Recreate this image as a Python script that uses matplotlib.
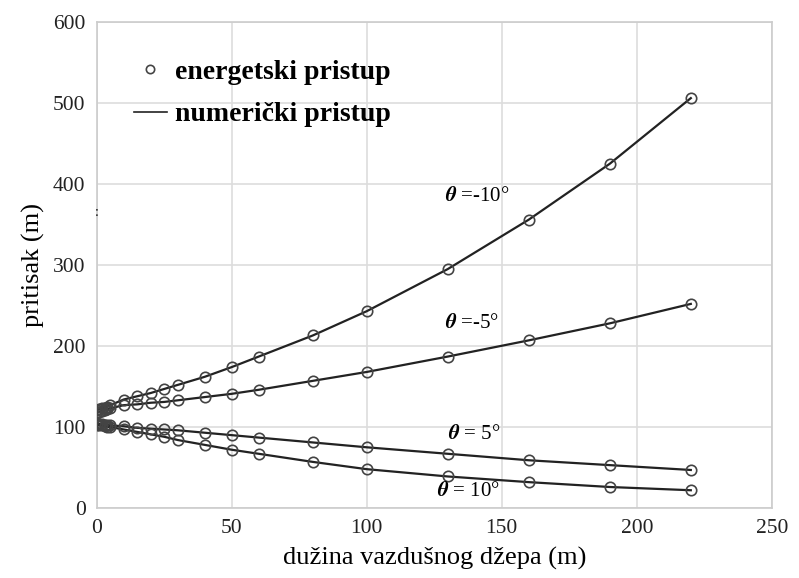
import matplotlib
matplotlib.use("Agg")
import matplotlib.pyplot as plt
from matplotlib.lines import Line2D

x = [0, 1, 2, 3, 4, 5, 10, 15, 20, 25, 30, 40, 50, 60, 80, 100, 130, 160, 190, 220]
p_m10 = [121, 122, 123, 124, 125, 127, 134, 138, 142, 147, 152, 162, 174, 187, 213, 243, 295, 356, 425, 506]
p_m5 = [118, 119, 120, 121, 122, 123, 127, 128, 130, 131, 133, 137, 141, 146, 157, 168, 187, 207, 228, 252]
p_p5 = [105, 104, 104, 103, 103, 102, 101, 99, 98, 97, 96, 93, 90, 87, 81, 75, 67, 59, 53, 47]
p_p10 = [103, 102, 102, 101, 100, 100, 97, 94, 91, 88, 84, 78, 72, 67, 57, 48, 39, 32, 26, 22]
series = [p_m10, p_m5, p_p5, p_p10]
labels = [" =-10°", " =-5°", " = 5°", " = 10°"]
label_pos = [(129, 385), (129, 228), (130, 91), (126, 20)]

xticks = [0, 50, 100, 150, 200, 250]
yticks = [0, 100, 200, 300, 400, 500, 600]

plt.rcParams['font.family'] = ['Liberation Serif', 'DejaVu Serif']
plt.rcParams['mathtext.fontset'] = 'stix'

fig = plt.figure(figsize=(7.99, 5.78), dpi=100)
ax = fig.add_axes([0.121, 0.121, 0.845, 0.841])

for ys in series:
    ax.plot(x, ys, color='#222222', lw=1.6, zorder=2)
    ax.plot(x, ys, linestyle='none', marker='o', markersize=7.5, markerfacecolor='none',
            markeredgecolor='#444444', markeredgewidth=1.2, zorder=3)

for lab, (tx, ty) in zip(labels, label_pos):
    ax.text(tx, ty, r"$\boldsymbol{\theta}$" + lab, fontsize=15, ha='left', va='center')

ax.set_xlim(0, 250)
ax.set_ylim(0, 600)
ax.set_xticks(xticks)
ax.set_yticks(yticks)
ax.tick_params(length=0, labelsize=15.5, pad=8, colors='#222222')
ax.grid(True, color='#dddddd', lw=1.2)
ax.set_axisbelow(True)
for s in ax.spines.values():
    s.set_color('#cccccc')
    s.set_linewidth(1.2)

ax.set_xlabel("dužina vazdušnog džepa (m)", fontsize=19, labelpad=6)
ax.set_ylabel("pritisak (m)", fontsize=19, labelpad=6)

handles = [Line2D([], [], linestyle='none', marker='o', markersize=6, markerfacecolor='none',
                  markeredgecolor='#444444', markeredgewidth=1.2),
           Line2D([], [], color='#222222', lw=1.2)]
ax.legend(handles, ["energetski pristup", "numerički pristup"], loc='upper left',
          bbox_to_anchor=(0.018, 0.975), frameon=False, prop={'size': 20, 'weight': 'bold'},
          handlelength=1.2, handletextpad=0.3, labelspacing=0.62)

fig.text(97 / 799, 1 - 212 / 578, ":", fontsize=10, ha='center', va='center')

fig.savefig("out.png", dpi=100)
